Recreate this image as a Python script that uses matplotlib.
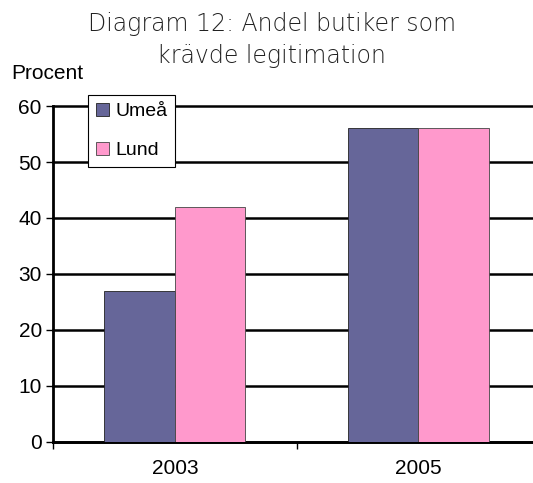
import matplotlib
matplotlib.use("Agg")
import matplotlib.pyplot as plt
import numpy as np

years = ["2003", "2005"]
umea = [27, 56]
lund = [42, 56]
series_names = ["Umeå", "Lund"]
yticks = [0, 10, 20, 30, 40, 50, 60]

fig = plt.figure(figsize=(5.33, 4.83), dpi=100)
ax = fig.add_axes([0.0994, 0.085, 0.9006, 0.6955])

x = np.arange(len(years))
w = 0.29
ax.bar(x - w/2, umea, w, color="#666699", edgecolor="#222222", linewidth=0.6, label=series_names[0], zorder=3)
ax.bar(x + w/2, lund, w, color="#ff99cc", edgecolor="#444444", linewidth=0.6, label=series_names[1], zorder=3)

ax.set_xlim(-0.5, 1.47)
ax.set_ylim(0, 60)
ax.set_yticks(yticks)
ax.set_yticklabels([str(v) for v in yticks], fontsize=15, family="Liberation Sans")
ax.set_xticks([-0.5, 0.5])
ax.set_xticklabels([])
ax.set_xticks(x, minor=True)
ax.set_xticklabels(years, minor=True, fontsize=15, family="Liberation Sans")
ax.tick_params(axis="x", which="minor", length=0, pad=12)
ax.tick_params(axis="x", which="major", length=5, width=1, direction="out")
ax.tick_params(axis="y", length=5, width=1, direction="out", pad=3)

ax.grid(axis="y", color="black", linewidth=1.8, zorder=0)
for gl in ax.get_ygridlines():
    gl.set_clip_on(False)
for s in ["top", "right"]:
    ax.spines[s].set_visible(False)
ax.spines["left"].set_linewidth(2)
ax.spines["bottom"].set_linewidth(2)

leg = ax.legend(loc="upper left", bbox_to_anchor=(0.073, 1.033),
                prop={"family": "Liberation Sans", "size": 14},
                frameon=True, fancybox=False, edgecolor="black", framealpha=1,
                handlelength=0.7, handleheight=0.7, handletextpad=0.3,
                labelspacing=1.1, borderpad=0.4, borderaxespad=0)
leg.get_frame().set_linewidth(0.8)
leg.set_zorder(5)

fig.text(0.51, 0.917, "Diagram 12: Andel butiker som\nkrävde legitimation",
         ha="center", va="center", fontsize=17, family="DejaVu Sans",
         fontweight=200, linespacing=1.4, color="#222222")
fig.text(0.022, 0.848, "Procent", fontsize=15, family="Liberation Sans", va="center")

fig.savefig("out.png", dpi=100)
